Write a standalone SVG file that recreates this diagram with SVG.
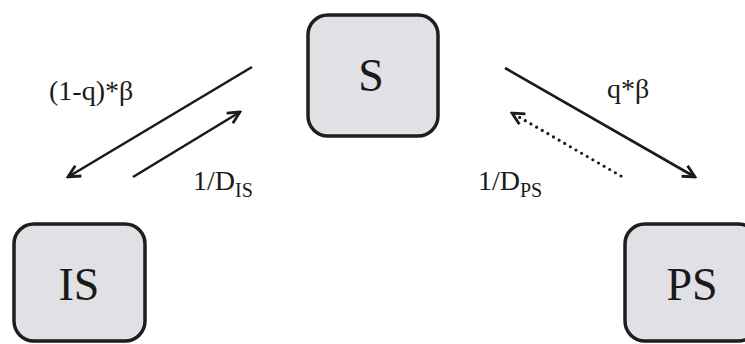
<svg xmlns="http://www.w3.org/2000/svg" width="745" height="344" viewBox="0 0 745 344">
<defs>
<style>
.box{fill:#e1e1e5;stroke:#1e1e1e;stroke-width:3.5}
text{font-family:'Liberation Serif','Times New Roman',serif;fill:#1a1a1a}
.node{font-size:46px;text-anchor:middle}
.rate{font-size:28px}
.sub{font-size:20px}
.edge{stroke:#1a1a1a;stroke-width:2.6;fill:none}
.dot{stroke-dasharray:0 6.5;stroke-linecap:round;stroke-width:3.2}
</style>
<marker id="ah" viewBox="0 0 16 16" markerWidth="16" markerHeight="16" refX="14" refY="8" orient="auto" markerUnits="userSpaceOnUse">
<path d="M2,2 L14,8 L2,14" fill="none" stroke="#1a1a1a" stroke-width="2.8" stroke-dasharray="none"/>
</marker>
</defs>
<rect width="745" height="344" fill="#ffffff"/>
<g id="node-S">
<rect class="box" x="308" y="15" width="130" height="121" rx="20"/>
<text class="node" x="371" y="91">S</text>
</g>
<g id="node-IS">
<rect class="box" x="14" y="224" width="131" height="117" rx="20"/>
<text class="node" x="79" y="300">IS</text>
</g>
<g id="node-PS">
<rect class="box" x="625" y="224" width="133" height="117" rx="20"/>
<text class="node" x="692" y="300">PS</text>
</g>
<g id="connectors">
<line class="edge" x1="252" y1="67" x2="68" y2="177" marker-end="url(#ah)"/>
<line class="edge" x1="133" y1="177" x2="240" y2="112" marker-end="url(#ah)"/>
<line class="edge" x1="505" y1="68" x2="695" y2="177" marker-end="url(#ah)"/>
<line class="edge dot" x1="621" y1="176" x2="512" y2="113" marker-end="url(#ah)"/>
</g>
<g id="labels">
<text class="rate" x="49" y="100">(1-q)*β</text>
<text class="rate" x="193" y="190">1/D<tspan class="sub" dy="7">IS</tspan></text>
<text class="rate" x="607" y="98">q*β</text>
<text class="rate" x="478" y="190">1/D<tspan class="sub" dy="7">PS</tspan></text>
</g>
</svg>
